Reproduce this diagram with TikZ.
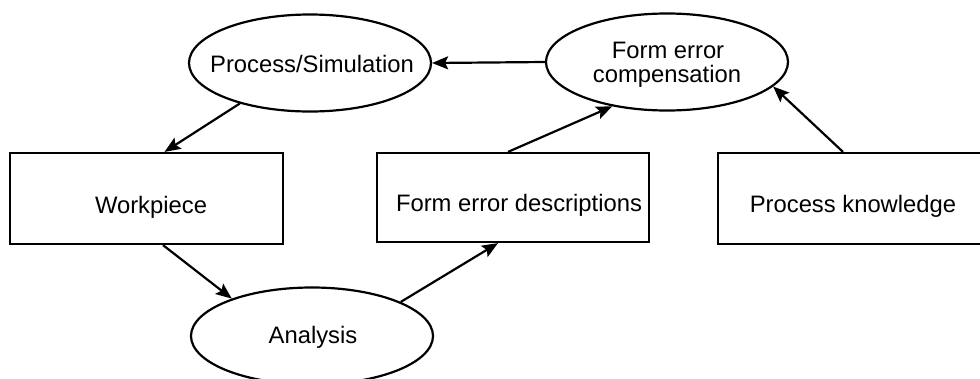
\documentclass[tikz,border=0pt]{standalone}
\usepackage{fontspec}
\setmainfont{Liberation Sans}
\usetikzlibrary{shapes.geometric,arrows.meta}
\begin{document}
\begin{tikzpicture}[x=1pt,y=-1pt,
  ell/.style={ellipse,draw,line width=2.2pt,minimum width=242pt,minimum height=97pt,inner sep=0pt},
  box/.style={rectangle,draw,line width=2.2pt,inner sep=0pt},
  lbl/.style={font=\fontsize{23.8}{24}\selectfont,anchor=base,inner sep=0pt},
  arr/.style={-{Stealth[length=16pt,width=13pt,inset=3pt]},line width=2.2pt}]
\useasboundingbox (0,0) rectangle (980,378);
% shapes
\node[ell] (ps) at (310,63) {};
\node[ell] (fec) at (667,62) {};
\node[ell] (an) at (312,336) {};
\node[box,minimum width=273pt,minimum height=91pt] (wp) at (146.5,198.5) {};
\node[box,minimum width=272pt,minimum height=89pt] (fed) at (513,197.5) {};
\node[box,minimum width=272pt,minimum height=91pt] (pk) at (854,198.5) {};
% texts
\node[lbl] (pst) at (312,72) {Process/Simulation};
\node[lbl] (fect1) at (668,58) {Form error};
\node[lbl] (fect2) at (667,82) {compensation};
\node[lbl] (ant) at (313,343) {Analysis};
\node[lbl] (wpt) at (151,213) {Workpiece};
\node[lbl] (fedt) at (519,211) {Form error descriptions};
\node[lbl] (pkt) at (853,212) {Process knowledge};
% connectors
\draw[arr] (fec.west) -- (ps.east);
\draw[arr] (ps.210) -- ([xshift=18pt]wp.north);
\draw[arr] ([xshift=16.5pt]wp.south) -- (an.155);
\draw[arr] (an.21) -- ([xshift=-15pt]fed.south);
\draw[arr] ([xshift=-5pt]fed.north) -- (fec.219);
\draw[arr] ([xshift=-11pt]pk.north) -- (fec.347);
\end{tikzpicture}
\end{document}
